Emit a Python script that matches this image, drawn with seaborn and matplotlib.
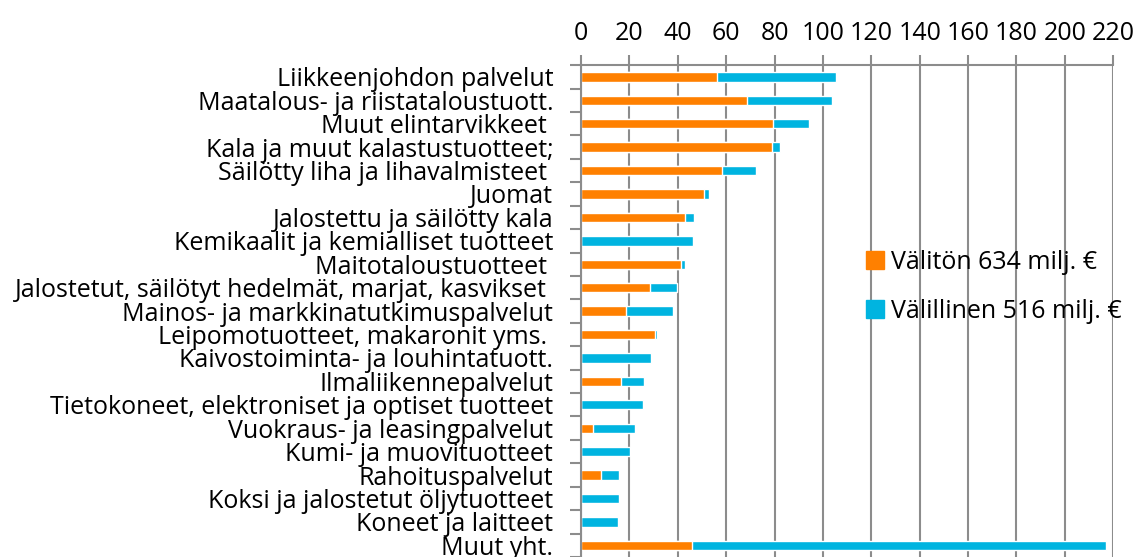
import numpy as np
import pandas as pd
import matplotlib
matplotlib.use("Agg")
import matplotlib.pyplot as plt
import seaborn as sns
from matplotlib.patches import Patch
from matplotlib.ticker import FixedLocator

categories = [
    "Liikkeenjohdon palvelut",
    "Maatalous- ja riistataloustuott.",
    "Muut elintarvikkeet ",
    "Kala ja muut kalastustuotteet;",
    "Säilötty liha ja lihavalmisteet ",
    "Juomat",
    "Jalostettu ja säilötty kala",
    "Kemikaalit ja kemialliset tuotteet",
    "Maitotaloustuotteet ",
    "Jalostetut, säilötyt hedelmät, marjat, kasvikset ",
    "Mainos- ja markkinatutkimuspalvelut",
    "Leipomotuotteet, makaronit yms. ",
    "Kaivostoiminta- ja louhintatuott.",
    "Ilmaliikennepalvelut",
    "Tietokoneet, elektroniset ja optiset tuotteet",
    "Vuokraus- ja leasingpalvelut",
    "Kumi- ja muovituotteet",
    "Rahoituspalvelut",
    "Koksi ja jalostetut öljytuotteet",
    "Koneet ja laitteet",
    "Muut yht.",
]
valiton = [56.1, 68.6, 79.5, 78.8, 58.4, 50.7, 43.1, 0.0, 41.3, 28.7, 18.4,
           30.5, 0.0, 16.5, 0.0, 4.9, 0.0, 8.2, 0.0, 0.0, 45.7]
valillinen = [49.4, 35.2, 14.6, 3.3, 14.0, 2.4, 3.8, 46.1, 1.9, 10.8, 19.8,
              1.1, 29.1, 9.6, 25.8, 17.6, 20.2, 7.6, 15.8, 15.5, 171.3]
x_ticks = list(range(0, 221, 20))

orange = "#FF8000"
blue = "#00B4E0"
grid_gray = "#8C8C8C"

df = pd.DataFrame({"kategoria": categories, "valiton": valiton, "valillinen": valillinen})
df["yht"] = df["valiton"] + df["valillinen"]

sns.set_theme(style="white")
plt.rcParams["font.family"] = ["Open Sans", "DejaVu Sans"]
plt.rcParams["text.color"] = "black"
plt.rcParams["xtick.labelcolor"] = "black"
plt.rcParams["ytick.labelcolor"] = "black"

fig = plt.figure(figsize=(11.37, 5.57), dpi=100)
ax = fig.add_axes([0.511, 0.0, 0.468, 0.883])

# total first (blue), then direct part on top (orange)
sns.barplot(data=df, x="yht", y="kategoria", color=blue, width=0.4,
            saturation=1, ax=ax, orient="h")
sns.barplot(data=df, x="valiton", y="kategoria", color=orange, width=0.4,
            saturation=1, ax=ax, orient="h")

ax.set_xlim(0, 220)
ax.set_ylim(len(categories) - 0.5, -0.5)
ax.set_xticks(x_ticks)
ax.xaxis.tick_top()
ax.tick_params(axis="x", labelsize=18, length=7, width=1.5, color=grid_gray,
               pad=7, direction="out", top=True, bottom=False)
ax.grid(axis="x", color=grid_gray, linewidth=1.5)
ax.set_axisbelow(True)

ax.tick_params(axis="y", which="major", length=0, labelsize=18, pad=20)
ax.yaxis.set_minor_locator(FixedLocator(np.arange(-0.5, len(categories), 1.0)))
ax.tick_params(axis="y", which="minor", left=True, length=8, width=1.5, color=grid_gray)

for side in ["right", "bottom"]:
    ax.spines[side].set_visible(False)
for side in ["top", "left"]:
    ax.spines[side].set_color(grid_gray)
    ax.spines[side].set_linewidth(1.5)

ax.set_xlabel("")
ax.set_ylabel("")

handles = [Patch(color=orange, label="Välitön 634 milj. €"),
           Patch(color=blue, label="Välillinen 516 milj. €")]
fig.legend(handles=handles, loc="center left", bbox_to_anchor=(0.742, 0.485),
           frameon=False, fontsize=18, handlelength=0.7, handleheight=0.7,
           handletextpad=0.3, labelspacing=0.95)

fig.savefig("out.png", dpi=100)
